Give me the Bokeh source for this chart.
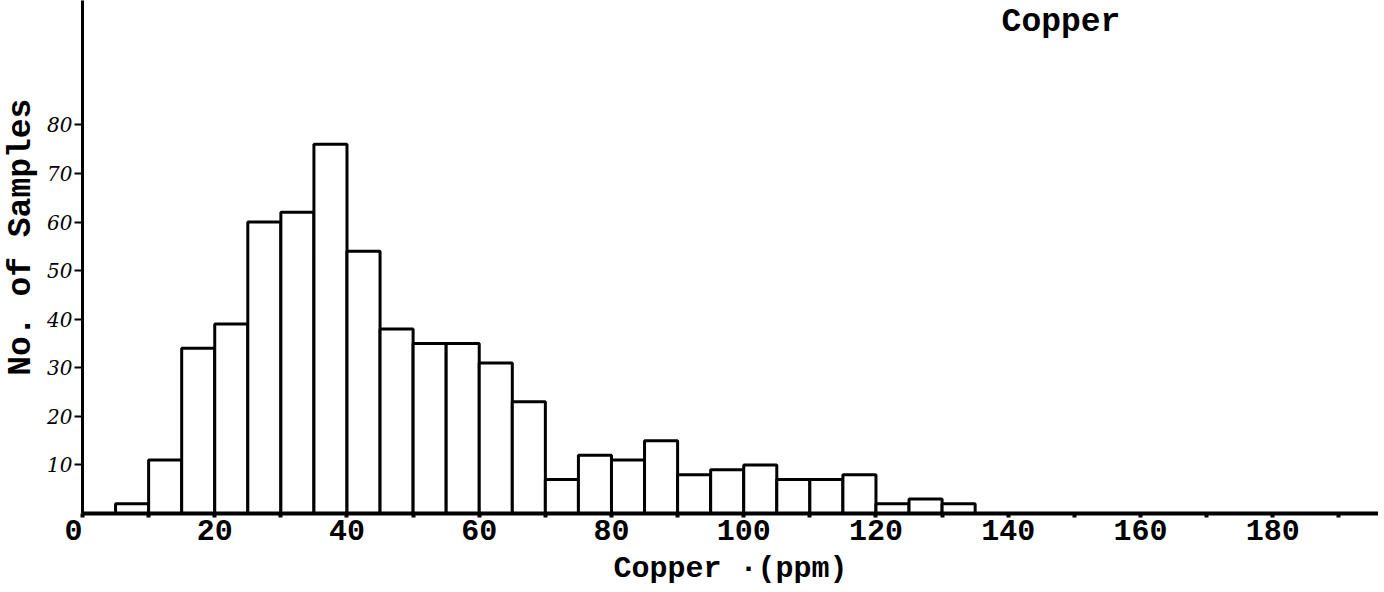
from bokeh.plotting import figure
from bokeh.models import FixedTicker, Range1d, Label, ColumnDataSource
from bokeh.embed import file_html
from bokeh.resources import INLINE

# Data
bin_left = [5, 10, 15, 20, 25, 30, 35, 40, 45, 50, 55, 60, 65, 70, 75, 80, 85,
            90, 95, 100, 105, 110, 115, 120, 125, 130]
counts = [2, 11, 34, 39, 60, 62, 76, 54, 38, 35, 35, 31, 23, 7, 12, 11, 15,
          8, 9, 10, 7, 7, 8, 2, 3, 2]
bin_width = 5
x_ticks = [0, 10, 20, 30, 40, 50, 60, 70, 80, 90, 100, 110, 120, 130, 140, 150,
           160, 170, 180, 190]
x_tick_labels = [20, 40, 60, 80, 100, 120, 140, 160, 180]
y_ticks = [10, 20, 30, 40, 50, 60, 70, 80]
title_text = "Copper"
x_title = "Copper ·(ppm)"
y_title = "No. of Samples"

src = ColumnDataSource(dict(
    left=bin_left,
    right=[b + bin_width for b in bin_left],
    top=counts,
))

p = figure(width=1378, height=592,
           x_range=Range1d(0, 196), y_range=Range1d(0, 105.6),
           output_backend="svg", toolbar_location=None,
           min_border_left=82, min_border_right=0,
           min_border_top=0, min_border_bottom=79)
p.outline_line_color = None
p.grid.grid_line_color = None
p.background_fill_color = "white"
p.border_fill_color = "white"

p.quad(left="left", right="right", bottom=0, top="top", source=src,
       fill_color="white", line_color="black", line_width=3)

mono = "Liberation Mono"
nb = "\u00a0"

# x axis
labels = {}
for t in x_ticks:
    if t in x_tick_labels:
        labels[t] = str(t)
    elif t == 0:
        labels[t] = "0" + nb   # the origin label sits left of the axis
    else:
        labels[t] = ""
xa = p.xaxis[0]
xa.ticker = FixedTicker(ticks=x_ticks)
xa.major_label_overrides = labels
xa.minor_tick_line_color = None
xa.axis_line_width = 4
xa.axis_line_color = "black"
xa.major_tick_line_width = 4
xa.major_tick_line_color = "black"
xa.major_tick_out = 4
xa.major_tick_in = 0
xa.major_label_standoff = -3
xa.major_label_text_font = mono
xa.major_label_text_font_size = "30px"
xa.major_label_text_font_style = "bold"
xa.major_label_text_color = "black"
xa.axis_label = x_title
xa.axis_label_text_font = mono
xa.axis_label_text_font_size = "30px"
xa.axis_label_text_font_style = "bold"
xa.axis_label_text_color = "black"
xa.axis_label_standoff = 0

# y axis
ya = p.yaxis[0]
ya.ticker = FixedTicker(ticks=y_ticks)
ya.minor_tick_line_color = None
ya.axis_line_width = 3
ya.axis_line_color = "black"
ya.major_tick_line_width = 2
ya.major_tick_line_color = "black"
ya.major_tick_out = 8
ya.major_tick_in = 0
ya.major_label_standoff = 2
ya.major_label_text_font = "DejaVu Serif"
ya.major_label_text_font_size = "20px"
ya.major_label_text_font_style = "italic"
ya.major_label_text_color = "black"
ya.axis_label = nb + nb + y_title
ya.axis_label_text_font = mono
ya.axis_label_text_font_size = "33px"
ya.axis_label_text_font_style = "bold"
ya.axis_label_text_color = "black"
ya.axis_label_standoff = 4

# chart title inside the plot (top right)
p.add_layout(Label(x=139, y=101, text=title_text, text_font=mono,
                   text_font_size="33px", text_font_style="bold",
                   text_color="black", text_baseline="middle", text_align="left"))

open("out.html", "w").write(file_html(p, INLINE))
